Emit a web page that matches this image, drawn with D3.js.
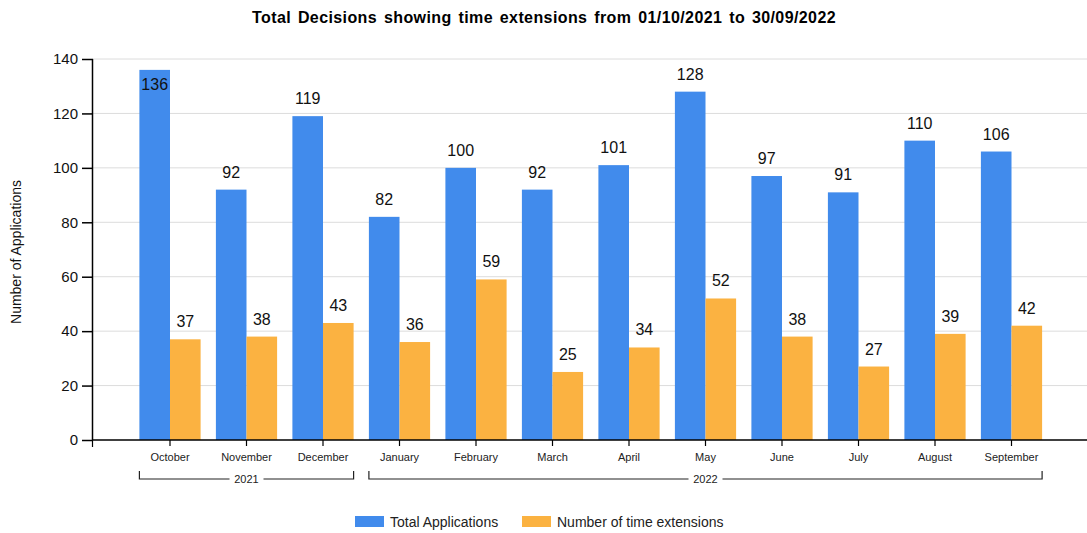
<!DOCTYPE html>
<html>
<head>
<meta charset="utf-8">
<script src="https://cdn.jsdelivr.net/npm/d3@7"></script>
<style>
  body { margin: 0; background: #fff; }
  text { font-family: "Liberation Sans", Arial, sans-serif; }
</style>
</head>
<body>
<svg></svg>
<script>
const months = ['October', 'November', 'December', 'January', 'February', 'March',
                'April', 'May', 'June', 'July', 'August', 'September']
const totalApplications = [136, 92, 119, 82, 100, 92, 101, 128, 97, 91, 110, 106]
const timeExtensions = [37, 38, 43, 36, 59, 25, 34, 52, 38, 27, 39, 42]
const yearGroups = [
    { year: '2021', first: 'October', last: 'December' },
    { year: '2022', first: 'January', last: 'September' }
]
const yTicks = [0, 20, 40, 60, 80, 100, 120, 140]
const seriesNames = ['Total Applications', 'Number of time extensions']
const colors = ['#418bec', '#fbb241']

const width = 1087
const height = 533
const axisX = 93
const axisY = 440

const svg = d3.select('svg')
    .attr('width', width)
    .attr('height', height)

const xScale = d3.scaleBand()
    .domain(months)
    .range([131.75, 1049.75])
    .paddingInner(0.2)
    .paddingOuter(0.1)

const subScale = d3.scaleBand()
    .domain([0, 1])
    .range([0, xScale.bandwidth()])

const yScale = d3.scaleLinear()
    .domain([0, 140])
    .range([axisY, 59])

// gridlines
svg.append('g')
    .selectAll('line')
    .data(yTicks.slice(1))
    .enter()
    .append('line')
    .attr('x1', axisX)
    .attr('x2', width)
    .attr('y1', d => yScale(d))
    .attr('y2', d => yScale(d))
    .attr('stroke', '#dcdcdc')
    .attr('stroke-width', 1)

// bars
const groups = svg.append('g')
    .selectAll('g')
    .data(months)
    .enter()
    .append('g')
    .attr('transform', m => `translate(${xScale(m)}, 0)`)

const seriesData = [totalApplications, timeExtensions]
seriesData.forEach((values, s) => {
    groups.append('rect')
        .attr('x', subScale(s))
        .attr('width', subScale.bandwidth())
        .attr('y', (m, i) => yScale(values[i]))
        .attr('height', (m, i) => axisY - yScale(values[i]))
        .attr('fill', colors[s])
    groups.append('text')
        .attr('x', subScale(s) + subScale.bandwidth() / 2)
        .attr('y', (m, i) => {
            const top = yScale(values[i])
            return top < 80 ? top + 20 : top - 12
        })
        .attr('text-anchor', 'middle')
        .attr('font-size', 16)
        .attr('fill', '#111')
        .text((m, i) => values[i])
})

// y axis
const yAxis = d3.axisLeft(yScale)
    .tickValues(yTicks)
    .tickSize(11)
    .tickPadding(4)
const yG = svg.append('g')
    .attr('transform', `translate(${axisX}, 0)`)
    .call(yAxis)
yG.select('.domain').attr('d', `M-0.5,${yScale(140)}V${axisY}`).attr('stroke', '#000').attr('stroke-width', 1.5)
yG.selectAll('.tick line').attr('stroke', '#000').attr('stroke-width', 1.5)
yG.selectAll('.tick text')
    .attr('font-size', 15)
    .attr('font-family', '"Liberation Sans", Arial, sans-serif')
    .attr('fill', '#111')

// x axis
const xAxis = d3.axisBottom(xScale)
    .tickSize(6)
    .tickPadding(7)
const xG = svg.append('g')
    .attr('transform', `translate(0, ${axisY})`)
    .call(xAxis)
xG.select('.domain').attr('d', `M${axisX - 1},0H${width}`).attr('stroke', '#000').attr('stroke-width', 1.5)
xG.selectAll('.tick line').attr('stroke', '#000').attr('stroke-width', 1.2)
xG.selectAll('.tick text')
    .attr('font-size', 11)
    .attr('font-family', '"Liberation Sans", Arial, sans-serif')
    .attr('fill', '#222')
xG.append('line')
    .attr('x1', axisX - 0.5).attr('x2', axisX - 0.5)
    .attr('y1', 0).attr('y2', 7)
    .attr('stroke', '#000').attr('stroke-width', 1.2)

// year brackets
const bracketY = 479
yearGroups.forEach(g => {
    const x0 = xScale(g.first)
    const x1 = xScale(g.last) + xScale.bandwidth()
    const mid = (x0 + x1) / 2
    const bracket = svg.append('g')
    bracket.append('path')
        .attr('d', `M${x0},${bracketY - 8}V${bracketY}H${mid - 17}M${mid + 17},${bracketY}H${x1}V${bracketY - 8}`)
        .attr('fill', 'none')
        .attr('stroke', '#222')
        .attr('stroke-width', 1.2)
    bracket.append('text')
        .attr('x', mid)
        .attr('y', bracketY + 4)
        .attr('text-anchor', 'middle')
        .attr('font-size', 11)
        .attr('fill', '#222')
        .text(g.year)
})

// title
svg.append('text')
    .attr('x', 544)
    .attr('y', 23)
    .attr('text-anchor', 'middle')
    .attr('font-size', 16)
    .attr('font-weight', 'bold')
    .attr('letter-spacing', 0.4)
    .attr('word-spacing', 2)
    .attr('fill', '#000')
    .text('Total Decisions showing time extensions from 01/10/2021 to 30/09/2022')

// y axis label
svg.append('text')
    .attr('transform', 'translate(21, 252) rotate(-90)')
    .attr('text-anchor', 'middle')
    .attr('font-size', 14)
    .attr('fill', '#111')
    .text('Number of Applications')

// legend
const legendX = [355, 522]
const legend = svg.append('g')
    .selectAll('g')
    .data(seriesNames)
    .enter()
    .append('g')
    .attr('transform', (d, i) => `translate(${legendX[i]}, 516)`)
legend.append('rect')
    .attr('width', 29)
    .attr('height', 11)
    .attr('fill', (d, i) => colors[i])
legend.append('text')
    .attr('x', 35)
    .attr('y', 11)
    .attr('font-size', 14)
    .attr('fill', '#222')
    .text(d => d)
</script>
</body>
</html>
